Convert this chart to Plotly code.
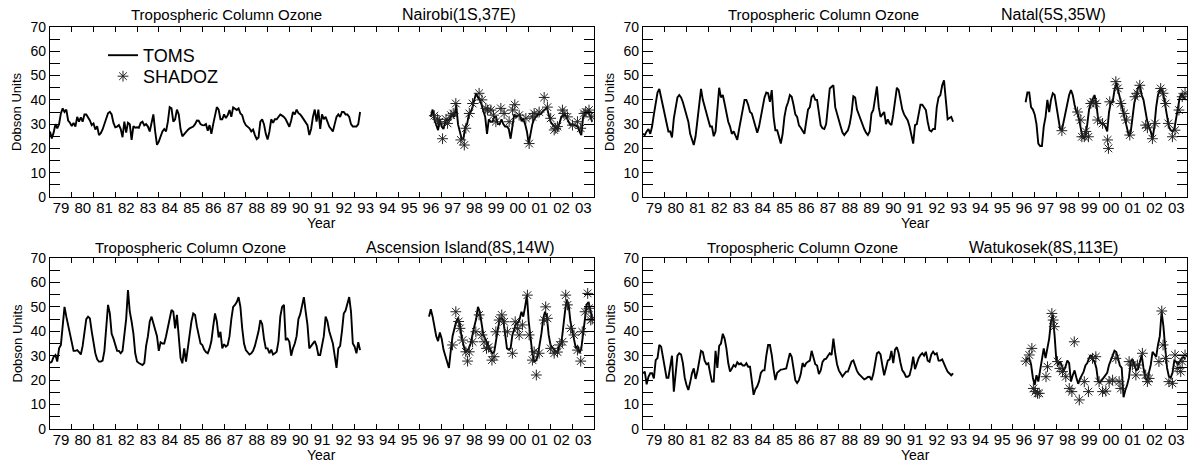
import plotly.graph_objects as go

# ---------------- axis labels ----------------
year_ticks = [1979, 1980, 1981, 1982, 1983, 1984, 1985, 1986, 1987, 1988, 1989, 1990,
              1991, 1992, 1993, 1994, 1995, 1996, 1997, 1998, 1999, 2000, 2001, 2002, 2003]
year_labels = ['79', '80', '81', '82', '83', '84', '85', '86', '87', '88', '89', '90',
               '91', '92', '93', '94', '95', '96', '97', '98', '99', '00', '01', '02', '03']

# ---------------- Nairobi (1S,37E) ----------------
nairobi_toms_early = [  # monthly from Jan 1979
    27, 24.1, 26.5, 30, 28.3, 30, 34.4, 36.5, 35, 36, 31.5, 30.6,
    29.2, 30.5, 29, 33, 31, 32.8, 31, 34, 34, 33, 31.5, 29.6,
    30.3, 27.8, 29.2, 25.5, 26.3, 27.8, 30, 33, 34.5, 35.1, 34, 30.5,
    28.7, 29, 29.6, 28, 24.6, 31, 26.5, 30.6, 30, 23.5, 29.2, 28.5,
    28.7, 28.5, 30.5, 31, 29.5, 30, 29, 27, 30, 34, 27, 21.5,
    22.8, 25, 27, 28, 27, 31, 37, 36.5, 31, 32, 36, 34,
    28, 25, 26, 27, 27.6, 28.3, 28.7, 29, 30, 31.5, 31.4, 30,
    29.6, 29.5, 30, 27.3, 29.6, 26, 30, 33, 37, 36, 32, 32,
    34, 32.5, 33.7, 35.8, 33, 36.9, 36.5, 35.8, 36.5, 34.4, 33.7, 31,
    29.6, 28.9, 28.3, 27, 27.8, 25.5, 23.8, 24.5, 31, 32, 30, 26,
    23.7, 26.9, 32, 30.5, 32, 32, 33, 34, 33.5, 33, 32, 30.3,
    28.9, 31.5, 35, 34, 36, 34.5, 34, 33, 32, 31, 29.6, 25.5,
    28, 33, 36, 31, 36, 28, 34, 32, 33, 31, 29, 28,
    27, 30, 33, 34, 33, 35, 35, 34, 34, 33, 30, 29,
    29, 29, 30, 35]
nairobi_late_start = 1996.5  # Jul 1996
nairobi_toms_late = [
    33, 36, 32, 30, 27.5, 32,
    29, 28, 31, 32, 31.7, 33, 34, 33, 38, 30, 27, 24,
    24, 29, 30, 34, 35, 37, 40, 42.7, 41, 40, 38, 35,
    33, 26, 32, 31, 31, 33, 33, 30, 30, 32, 30, 29,
    29, 28, 24, 29, 34, 33, 33.5, 34, 31.5, 32, 30, 27,
    22, 27, 30, 32, 33, 34, 34, 34.5, 35.5, 36, 37, 34,
    31, 30, 29, 28.5, 28, 31, 33, 33.5, 34, 32.5, 31, 29.6,
    30, 29.6, 29.5, 29, 27, 25.5, 33, 34, 35, 35.5, 33, 31]
nairobi_shadoz_time = [1996.66, 1996.81, 1996.89, 1997.04, 1997.20, 1997.27, 1997.43, 1997.53,
                       1997.65, 1997.88, 1998.04, 1998.11, 1998.27, 1998.42, 1998.72, 1998.85,
                       1999.03, 1999.11, 1999.26, 1999.38, 1999.49, 1999.72, 1999.87, 2000.10,
                       2000.26, 2000.36, 2000.56, 2000.87, 2001.02, 2001.17, 2001.25, 2001.48,
                       2001.71, 2001.86, 2002.01, 2002.17, 2002.24, 2002.32, 2002.55, 2002.62,
                       2002.78, 2003.01, 2003.24, 2003.39, 2003.54, 2003.62, 2003.77, 2003.89]
nairobi_shadoz_o3 = [33.5, 32, 31, 24, 32, 30.3, 33.7, 34.4,
                     38.5, 23.5, 21.4, 28.3, 34.4, 38.5, 42.7, 40,
                     36.5, 35.8, 35.8, 33.7, 31, 36.5, 34.4, 31,
                     35.8, 38, 33.7, 32.4, 22, 33, 34.4, 35,
                     41, 37, 32.4, 27.6, 28.3, 29, 35.8, 34.4,
                     33, 29.6, 31, 28.3, 34.4, 35, 35.8, 33]

# ---------------- Natal (5S,35W) ----------------
natal_toms_early = [
    26, 25.5, 27, 28, 26, 29, 34, 39, 43, 44.5, 41, 37,
    34, 30, 27, 27, 24.5, 32.4, 36, 41, 42, 41, 39, 36,
    33, 31, 26, 23.5, 21.4, 25, 32, 40, 44.5, 40, 37.5, 35,
    32, 29, 29, 25, 27, 35, 45, 41, 42, 38.5, 35, 31,
    29, 26, 27, 25, 23.5, 28, 33, 36, 40, 40, 38, 35,
    34.4, 32, 29.5, 26.5, 29, 33.5, 37.5, 41, 43, 42.7, 39.2, 44,
    33, 27.5, 27.5, 25, 22, 26, 33, 37, 39, 42, 41.3, 38,
    34, 33, 29.5, 28.5, 27, 26, 31, 36, 37, 41.3, 42, 40,
    40, 35, 29.5, 28.3, 28, 30, 37, 44.7, 45.4, 46, 37, 34,
    31.5, 29, 26.5, 25.5, 26.5, 27.5, 30, 34.4, 41.5, 41, 36, 34,
    32, 29.5, 28, 26.5, 25.5, 27, 34.4, 35.8, 41, 45.5, 37, 33,
    34, 35, 30, 32, 30.3, 29.6, 34, 40, 45, 44, 40, 36,
    34, 32.4, 31.5, 29, 25, 22, 29.6, 30, 34, 38, 38, 37,
    35.8, 31, 27.5, 27, 28, 28, 37, 41, 42, 46, 48, 40,
    32, 32.5, 33, 31]
natal_late_start = 1996 + 7 / 12  # Aug 1996
natal_toms_late = [
    39, 43, 43, 37, 36,
    34, 30, 22, 21, 21, 29, 33, 40, 35, 40, 42.7, 42,
    37, 32, 28, 27.5, 31, 35, 38.5, 42, 44, 42, 38, 35,
    33.7, 29, 26, 24, 25, 30, 36, 38.5, 40, 42, 38.5, 32,
    31, 30, 30, 29, 27, 35, 39, 39, 44, 47, 44, 41,
    37, 34, 31, 29, 25, 27, 33, 39, 41.5, 45, 46, 42,
    40, 35, 31.5, 29, 27, 24, 29, 37, 42, 44, 44.5, 42,
    38, 33, 29, 27.5, 27, 28, 32, 37, 41, 42.5, 41, 40]
natal_shadoz_time = [1998.25, 1998.97, 1999.12, 1999.17, 1999.28, 1999.35, 1999.47, 1999.58,
                     1999.69, 1999.81, 1999.89, 2000.12, 2000.35, 2000.39, 2000.45, 2000.73,
                     2000.82, 2000.96, 2001.11, 2001.22, 2001.37, 2001.61, 2001.72, 2001.83,
                     2002.10, 2002.18, 2002.41, 2002.53, 2002.79, 2002.90, 2003.02, 2003.14,
                     2003.33, 2003.45, 2003.63, 2003.78, 2003.91]
natal_shadoz_o3 = [27.3, 35, 31.7, 24.8, 24.8, 27, 24.8, 38.5,
                   39.2, 38.5, 31.7, 30.3, 23.5, 20, 39.2, 47.5,
                   44.7, 38.5, 34.4, 31.7, 25.5, 41.3, 42.7, 46,
                   29.6, 28.5, 24, 30.3, 44.7, 42.7, 38.5, 30.3,
                   24.8, 27.5, 35.8, 41.3, 42.7]

# ---------------- Ascension Island (8S,14W) ----------------
ascension_toms_early = [
    27, 27.6, 29.6, 30.3, 27.6, 33, 34.4, 44, 50, 46, 42.6, 38,
    36, 32, 32, 32.3, 31.5, 30.5, 34, 39, 45, 46, 45.3, 40,
    35, 31, 28.5, 27.6, 27.6, 28, 32, 40, 50.8, 47.3, 39, 37,
    34, 32, 32, 31, 32, 38, 45, 56.9, 48, 44, 39, 31,
    27.6, 27, 26.5, 26.2, 27, 34, 38, 44, 46, 43, 40, 38,
    32, 35.5, 35, 35, 38, 42, 45, 48.7, 48, 41.2, 46.7, 38,
    29, 26.9, 33, 27.6, 33, 39, 44, 47.3, 46.7, 42, 38, 35,
    34.4, 32.5, 31.5, 31, 33, 36, 42, 47.3, 44, 37.5, 39.8, 33,
    34.7, 33.7, 34.4, 38, 45, 50, 50.8, 52, 54, 50, 41.2, 35,
    32.3, 31.6, 30.5, 31, 32, 34, 37, 40, 44.6, 43, 37, 33,
    33, 31, 32.5, 30.5, 31, 31.6, 36, 46, 50, 50.8, 36.4, 37,
    35.7, 30, 33, 35, 38, 45, 47, 50, 54, 48, 42.6, 33,
    34, 35, 36, 34, 30.3, 30.3, 34, 38, 46, 44, 40, 37,
    35, 30, 25, 33, 34, 40, 47.3, 48.5, 51, 54, 48, 35,
    33.7, 31, 35.5, 32.3]
ascension_late_start = 1996 + 5 / 12  # Jun 1996
ascension_toms_late = [
    46, 49, 46, 41, 38, 36, 39.5,
    37, 32.5, 30, 27, 25, 32, 38, 41, 44, 45.5, 43, 37.5,
    34, 31.5, 32, 33, 35, 39, 42, 45, 50, 48, 43, 38.5,
    37, 35, 33.5, 32, 31, 31.6, 37, 41, 45, 45.5, 44.6, 38,
    33, 32.5, 33, 38.5, 41, 43, 43.5, 45, 48, 46, 50, 54.8,
    44, 37.5, 31, 27.6, 28, 30, 34, 39, 45.3, 48, 46, 38.5,
    34.4, 33.5, 32.5, 31.6, 31.6, 34.4, 35, 42, 48, 53, 51, 44,
    39.8, 37, 33, 34, 31, 33, 39.8, 46, 51, 52, 48, 45.3]
ascension_shadoz_time = [1997.50, 1997.65, 1997.78, 1997.84, 1997.96, 1998.11, 1998.19, 1998.27,
                         1998.42, 1998.57, 1998.72, 1998.85, 1998.95, 1999.06, 1999.15, 1999.31,
                         1999.41, 1999.49, 1999.64, 1999.76, 1999.87, 2000.02, 2000.25, 2000.38,
                         2000.48, 2000.56, 2000.71, 2000.94, 2001.02, 2001.17, 2001.25, 2001.35,
                         2001.48, 2001.71, 2001.78, 2001.86, 2002.01, 2002.17, 2002.32, 2002.43,
                         2002.55, 2002.70, 2002.78, 2002.93, 2003.08, 2003.24, 2003.39, 2003.46,
                         2003.59, 2003.71, 2003.77, 2003.85, 2003.92]
ascension_shadoz_o3 = [34.4, 48, 44, 41.2, 36.4, 31.6, 27.8, 31.6,
                       35.7, 39.8, 46.7, 38.5, 35.7, 33, 33.5, 28.2,
                       29.6, 39.8, 44.6, 46.7, 43.9, 39.8, 31, 43.9,
                       41.2, 38.5, 42.6, 54.8, 38.5, 28.2, 31.6, 22.1,
                       31, 44.6, 50, 45.3, 33, 31, 31.5, 34.4,
                       35.7, 54.8, 50.8, 41.2, 38.5, 32.3, 27.8, 39.8,
                       48, 55.5, 49.4, 44.6, 45]

# ---------------- Watukosek (8S,113E) ----------------
watukosek_toms_early = [
    22.8, 23.5, 18.3, 21.4, 22.8, 22.8, 20.7, 28.2, 29, 34.4, 33.7, 29,
    25, 21, 21, 25, 30, 15.3, 22, 30, 31, 30.5, 27, 21,
    18, 16, 19, 22.8, 24.8, 20.5, 23.5, 28, 32, 31.5, 28, 26.5,
    26.9, 23, 19.4, 19.4, 32, 25, 34, 35, 39, 37, 33, 27,
    23.5, 24.8, 26.2, 25.5, 27.3, 26.5, 26.9, 26, 26, 26.9, 25.5, 25.5,
    20.7, 14, 16.3, 17.5, 19.5, 23, 24, 24, 30, 34.4, 34.4, 30.3,
    24.5, 20, 23, 23.8, 24.3, 24.4, 24.5, 24.8, 28, 31, 29.6, 24.5,
    20, 18.8, 20, 22.5, 27, 25.5, 27, 27.5, 28, 32, 29, 26.5,
    26, 22.5, 24, 27.5, 28.5, 28.8, 30, 31, 30.3, 37, 31, 26.5,
    24, 22.5, 21.5, 22.5, 23.5, 23.5, 25.8, 27.6, 28.1, 25.5, 23.8, 22.5,
    21.8, 20.8, 20.3, 20.7, 21.3, 21.4, 20, 22.5, 26.5, 31, 31.5, 30.5,
    26, 22, 25, 28, 28.5, 32, 27, 32.5, 33.5, 31, 27, 24,
    23, 21.4, 21.4, 22, 25, 29.6, 24.5, 27, 29, 30.3, 31, 30,
    31.6, 28, 27.5, 30.5, 31.6, 30.5, 31, 28, 28, 28.5, 26.5, 25,
    23.5, 22.5, 22, 22.8]
watukosek_late_start = 1996 + 7 / 12  # Aug 1996
watukosek_toms_late = [
    27.6, 28.9, 28.9, 26.5, 21,
    18, 22, 19.4, 24, 28.9, 33, 29, 33, 37, 44, 46.7, 38,
    27.6, 26.5, 27.6, 26, 23.8, 25.5, 28, 27, 19.4, 22, 24, 21,
    18.5, 20.5, 22, 23.5, 26, 27, 29, 30.3, 28.3, 27.6, 25, 19.5,
    19, 20, 20.5, 22, 23, 26.2, 28, 30, 32, 31.5, 29, 26,
    25, 13, 16, 18, 21, 27.6, 28.5, 26, 24, 24.5, 27, 30.3,
    25, 21, 20, 23, 26.2, 31.6, 30.5, 29.5, 34.4, 38, 48, 42,
    33, 25, 21.5, 21, 23, 28, 27.5, 26.5, 27.6, 29, 29.3, 28.9]
watukosek_shadoz_time = [1996.60, 1996.75, 1996.87, 1996.94, 1997.03, 1997.13, 1997.21, 1997.52,
                         1997.59, 1997.79, 1997.85, 1997.90, 1998.05, 1998.16, 1998.28, 1998.43,
                         1998.59, 1998.71, 1998.82, 1999.05, 1999.28, 1999.47, 1999.66, 1999.81,
                         1999.96, 2000.12, 2000.27, 2000.42, 2000.58, 2000.73, 2000.88, 2000.96,
                         2001.34, 2001.49, 2001.65, 2001.72, 2001.95, 2002.10, 2002.18, 2002.26,
                         2002.71, 2002.84, 2002.90, 2003.02, 2003.17, 2003.33, 2003.45, 2003.55,
                         2003.71, 2003.78, 2003.91]
watukosek_shadoz_o3 = [27.8, 30.3, 33, 16.6, 15.3, 14.6, 14.6, 21.4,
                       25.5, 47.3, 44.6, 41.9, 27.6, 24.8, 23.5, 21.4,
                       16.6, 15.3, 35.7, 11.9, 19.4, 15.3, 28.9, 29.6,
                       19.4, 15.3, 15.5, 19.4, 20, 28.9, 19.4, 16.6,
                       27.6, 26.2, 22.1, 26.2, 31, 22.1, 19.4, 20.7,
                       27.6, 48.3, 34.4, 28.9, 19.4, 18.7, 30.3, 24.8,
                       23.5, 27.6, 30.3]

# ---------------- figure ----------------
W, H = 1189, 463
FONT = "Liberation Sans, Arial, sans-serif"


def px_x(p):
    return p / W


def px_y(p):
    return 1 - p / H


panels = [
    dict(name="Nairobi(1S,37E)", early=nairobi_toms_early, late_start=nairobi_late_start,
         late=nairobi_toms_late, st=nairobi_shadoz_time, so=nairobi_shadoz_o3,
         xd=[50, 594], yd=[27, 197], title_x=226, stn_x=459, title_y=15),
    dict(name="Natal(5S,35W)", early=natal_toms_early, late_start=natal_late_start,
         late=natal_toms_late, st=natal_shadoz_time, so=natal_shadoz_o3,
         xd=[643, 1187], yd=[27, 197], title_x=823, stn_x=1053, title_y=15),
    dict(name="Ascension Island(8S,14W)", early=ascension_toms_early, late_start=ascension_late_start,
         late=ascension_toms_late, st=ascension_shadoz_time, so=ascension_shadoz_o3,
         xd=[50, 594], yd=[258, 429], title_x=190, stn_x=460, title_y=247),
    dict(name="Watukosek(8S,113E)", early=watukosek_toms_early, late_start=watukosek_late_start,
         late=watukosek_toms_late, st=watukosek_shadoz_time, so=watukosek_shadoz_o3,
         xd=[643, 1187], yd=[258, 429], title_x=802, stn_x=1043, title_y=247),
]

fig = go.Figure()
annotations = []
for i, p in enumerate(panels):
    n = "" if i == 0 else str(i + 1)
    xa, ya = "x" + n, "y" + n
    xs = [1979 + k / 12 for k in range(len(p["early"]))] + [None] + \
         [p["late_start"] + k / 12 for k in range(len(p["late"]))]
    ys = list(p["early"]) + [None] + list(p["late"])
    fig.add_trace(go.Scatter(x=xs, y=ys, mode="lines", xaxis=xa, yaxis=ya,
                             line=dict(color="black", width=1.9), name="TOMS",
                             legend="legend", showlegend=(i == 0), connectgaps=False))
    fig.add_trace(go.Scatter(x=p["st"], y=p["so"], mode="markers", xaxis=xa, yaxis=ya,
                             marker=dict(symbol="asterisk-open", size=9, color="#222",
                                         line=dict(color="#222", width=1)),
                             name="SHADOZ", legend="legend2", showlegend=(i == 0)))
    xaxis_cfg = dict(
        domain=[px_x(p["xd"][0]), px_x(p["xd"][1])], anchor=ya, range=[1979, 2004],
        tickmode="array", tickvals=year_ticks, ticktext=year_labels,
        ticks="inside", ticklen=5, tickwidth=1, tickcolor="black",
        ticklabelshift=11, ticklabelstandoff=-3,
        showline=True, linecolor="black", linewidth=1.3, mirror="ticks",
        showgrid=False, zeroline=False, automargin=False,
        tickfont=dict(family=FONT, size=15, color="black"),
    )
    yaxis_cfg = dict(
        domain=[px_y(p["yd"][1]), px_y(p["yd"][0])], anchor=xa, range=[0, 70],
        tickmode="linear", tick0=0, dtick=10,
        ticks="inside", ticklen=10, tickwidth=1, tickcolor="black",
        minor=dict(ticks="inside", ticklen=10, tickwidth=1, tickcolor="black", dtick=5, tick0=0),
        showline=True, linecolor="black", linewidth=1.3, mirror="ticks",
        showgrid=False, zeroline=False, automargin=False,
        tickfont=dict(family=FONT, size=14, color="black"),
    )
    fig.layout["xaxis" + n] = xaxis_cfg
    fig.layout["yaxis" + n] = yaxis_cfg

    annotations.append(dict(text="Tropospheric Column Ozone", x=px_x(p["title_x"]), y=px_y(p["title_y"]),
                            xref="paper", yref="paper", showarrow=False,
                            font=dict(family=FONT, size=15, color="black"),
                            xanchor="center", yanchor="middle"))
    annotations.append(dict(text=p["name"], x=px_x(p["stn_x"]), y=px_y(p["title_y"]),
                            xref="paper", yref="paper", showarrow=False,
                            font=dict(family=FONT, size=16, color="black"),
                            xanchor="center", yanchor="middle"))
    cx = (p["xd"][0] + p["xd"][1]) / 2
    annotations.append(dict(text="Year", x=px_x(cx), y=px_y(p["yd"][1] + 26),
                            xref="paper", yref="paper", showarrow=False,
                            font=dict(family=FONT, size=14, color="black"),
                            xanchor="center", yanchor="middle"))
    cy = (p["yd"][0] + p["yd"][1]) / 2
    annotations.append(dict(text="Dobson Units", x=px_x(p["xd"][0] - 33), y=px_y(cy),
                            xref="paper", yref="paper", showarrow=False, textangle=-90,
                            font=dict(family=FONT, size=13, color="black"),
                            xanchor="center", yanchor="middle"))

legend_common = dict(xanchor="left", yanchor="top",
                     font=dict(family=FONT, size=18, color="black"),
                     bgcolor="rgba(0,0,0,0)", borderwidth=0, itemwidth=30)
fig.update_layout(
    width=W, height=H,
    margin=dict(l=0, r=0, t=0, b=0),
    paper_bgcolor="white", plot_bgcolor="white",
    annotations=annotations,
    showlegend=True,
    legend=dict(x=px_x(103), y=px_y(37), **legend_common),
    legend2=dict(x=px_x(103), y=px_y(58), **legend_common),
)

fig.write_html("out.html", config={"displayModeBar": False},
               post_script="document.body.style.margin='0px';")
